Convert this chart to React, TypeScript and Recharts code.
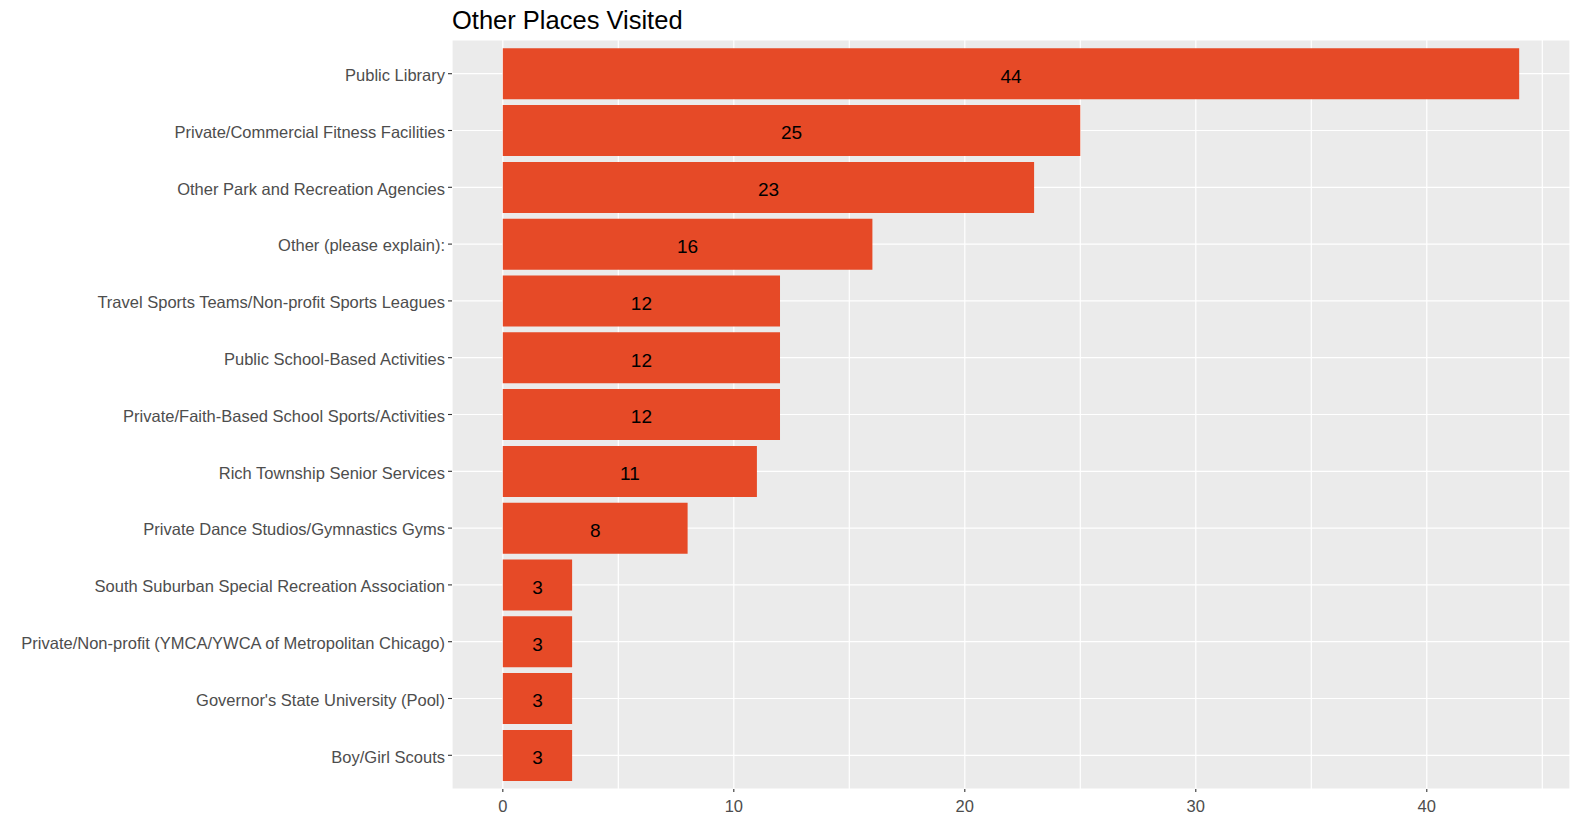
import React from 'react';
import {
  BarChart,
  Bar,
  XAxis,
  YAxis,
  CartesianGrid,
  LabelList,
} from 'recharts';

const places = [
  'Public Library',
  'Private/Commercial Fitness Facilities',
  'Other Park and Recreation Agencies',
  'Other (please explain):',
  'Travel Sports Teams/Non-profit Sports Leagues',
  'Public School-Based Activities',
  'Private/Faith-Based School Sports/Activities',
  'Rich Township Senior Services',
  'Private Dance Studios/Gymnastics Gyms',
  'South Suburban Special Recreation Association',
  'Private/Non-profit (YMCA/YWCA of Metropolitan Chicago)',
  "Governor's State University (Pool)",
  'Boy/Girl Scouts',
];

const counts = [44, 25, 23, 16, 12, 12, 12, 11, 8, 3, 3, 3, 3];

// gridlines every 5, labels every 10
const gridTicks = [0, 5, 10, 15, 20, 25, 30, 35, 40, 45];
const labelTicks = [0, 10, 20, 30, 40];

const data = places.map((place, i) => ({ place, count: counts[i] }));

const FONT = '"Liberation Sans", Arial, sans-serif';

function XTick(props: any) {
  const { x, y, payload } = props;
  if (!labelTicks.includes(payload.value)) return null;
  return (
    <g>
      <line x1={x} x2={x} y1={y - 11} y2={y - 8} stroke="#333333" strokeWidth={1.1} />
      <text
        x={x}
        y={y}
        dy="0.71em"
        textAnchor="middle"
        fill="#4D4D4D"
        fontSize={16.5}
        fontFamily={FONT}
      >
        {payload.value}
      </text>
    </g>
  );
}

function YTick(props: any) {
  const { x, y, payload } = props;
  return (
    <text
      x={x}
      y={y + 1.5}
      dy="0.355em"
      textAnchor="end"
      fill="#4D4D4D"
      fontSize={16.5}
      fontFamily={FONT}
    >
      {payload.value}
    </text>
  );
}

function ValueLabel(props: any) {
  const { x, y, width, height, value } = props;
  return (
    <text
      x={x + width / 2}
      y={y + height / 2 + 2}
      dy="0.355em"
      textAnchor="middle"
      fill="#000000"
      fontSize={19}
      fontFamily={FONT}
    >
      {value}
    </text>
  );
}

export default function App() {
  return (
    <div
      style={{
        position: 'absolute',
        left: 0,
        top: 0,
        width: 1578,
        height: 817,
        background: '#FFFFFF',
      }}
    >
      {/* Title */}
      <div
        style={{
          position: 'absolute',
          left: 452,
          top: 8,
          fontFamily: FONT,
          fontSize: 25.5,
          lineHeight: '25px',
          color: '#000000',
          whiteSpace: 'nowrap',
        }}
      >
        Other Places Visited
      </div>

      <BarChart
        width={1578}
        height={817}
        data={data}
        layout="vertical"
        margin={{ top: 40, right: 8, bottom: 0, left: 0 }}
        style={{ position: 'absolute', left: 0, top: 0 }}
      >
        <CartesianGrid fill="#EBEBEB" stroke="#FFFFFF" strokeWidth={1.2} />
        <XAxis
          type="number"
          domain={[-2.2, 46.2]}
          ticks={gridTicks}
          interval={0}
          height={28}
          axisLine={false}
          tickLine={false}
          tickSize={3}
          tickMargin={8}
          tick={<XTick />}
        />
        <YAxis
          type="category"
          dataKey="place"
          width={452}
          interval={0}
          axisLine={false}
          tickSize={4}
          tickMargin={3}
          tickLine={{ stroke: '#333333', strokeWidth: 1.1 }}
          padding={{ top: 5.3, bottom: 5.3 }}
          tick={<YTick />}
        />
        <Bar dataKey="count" fill="#E64A27" barSize={51} isAnimationActive={false}>
          <LabelList dataKey="count" content={<ValueLabel />} />
        </Bar>
      </BarChart>
    </div>
  );
}
